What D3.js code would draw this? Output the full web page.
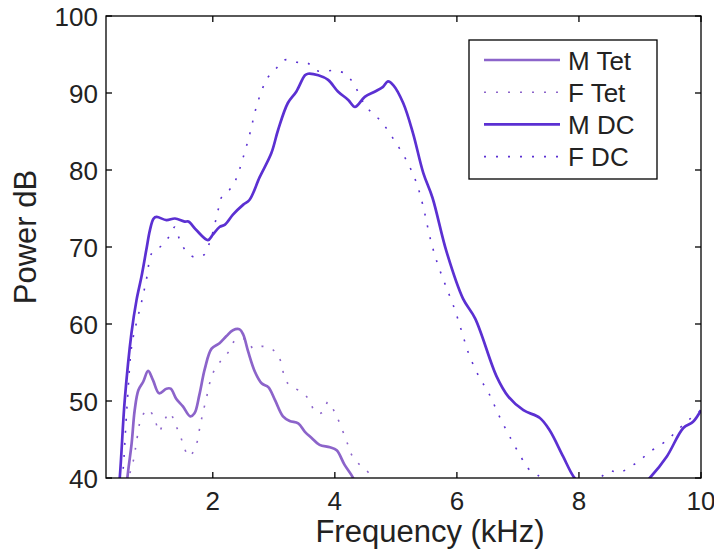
<!DOCTYPE html>
<html>
<head>
<meta charset="utf-8">
<style>
  body { margin: 0; background: #fff; }
  svg text { font-family: "Liberation Sans", Arial, Helvetica, sans-serif; fill: #222; }
</style>
</head>
<body>
<svg width="714" height="549"></svg>
<script src="https://cdn.jsdelivr.net/npm/d3@7/dist/d3.min.js"></script>
<script>
// ---- data: [frequency kHz, power dB] ----
var mTet = [[0.55,35],[0.6,40],[0.67,44.5],[0.72,48.8],[0.78,51.4],[0.86,52.5],[0.94,53.9],[1.02,52.7],[1.12,51.0],
  [1.24,51.6],[1.31,51.6],[1.40,50.3],[1.51,49.3],[1.63,48.0],[1.70,48.4],[1.78,50.8],[1.87,54.2],[1.98,56.8],
  [2.11,57.5],[2.22,58.4],[2.33,59.2],[2.44,59.3],[2.50,58.6],[2.58,56.4],[2.69,53.8],[2.80,52.3],[2.91,51.8],
  [3.02,50.1],[3.15,48.0],[3.26,47.4],[3.40,47.1],[3.51,46.0],[3.62,45.2],[3.75,44.3],[3.92,44.0],[4.03,43.6],
  [4.16,41.7],[4.30,40.0],[4.45,37]];
var fTet = [[0.58,36],[0.62,40],[0.68,41.6],[0.72,43.2],[0.75,44.7],[0.83,47.8],[0.94,48.9],[1.05,47.6],[1.12,46.0],
  [1.20,47.4],[1.30,48.5],[1.38,47.0],[1.46,45.7],[1.52,44.2],[1.61,42.8],[1.72,44.1],[1.80,47.1],[1.89,50.2],
  [2.0,53.6],[2.14,55.3],[2.27,56.5],[2.38,58.0],[2.58,57.9],[2.66,56.8],[2.81,57.1],[2.96,56.8],[3.09,55.6],
  [3.20,52.6],[3.31,51.8],[3.47,51.1],[3.59,50.0],[3.68,48.5],[3.80,48.5],[3.89,49.9],[4.0,48.5],[4.08,47.1],
  [4.22,44.2],[4.29,42.8],[4.41,41.7],[4.55,40.7],[4.7,38]];
var mDc = [[0.4,34],[0.475,40],[0.557,50.1],[0.667,58.8],[0.75,63.1],[0.83,66.1],[0.91,69.6],[0.97,72.2],[1.03,73.7],
  [1.08,73.9],[1.24,73.5],[1.38,73.7],[1.54,73.3],[1.6,73.3],[1.73,72.2],[1.92,70.9],[2.0,71.6],[2.11,72.6],
  [2.2,72.9],[2.33,74.2],[2.5,75.5],[2.6,76.1],[2.77,79.1],[2.96,82.2],[3.07,85.2],[3.23,88.7],[3.37,90.2],
  [3.51,92.3],[3.56,92.5],[3.73,92.3],[3.89,91.7],[4.05,90.2],[4.22,89.1],[4.33,88.2],[4.49,89.5],[4.66,90.2],
  [4.79,90.8],[4.87,91.5],[4.96,91.0],[5.12,88.7],[5.28,84.8],[5.45,79.6],[5.6,76.4],[5.83,69.4],[6.1,63.3],
  [6.3,60.7],[6.65,53.2],[6.84,50.6],[7.09,48.8],[7.36,47.8],[7.52,46.2],[7.74,42.8],[7.91,40.2],[8.1,38.5],
  [8.5,37.5],[8.9,38.0],[9.16,40.0],[9.44,42.8],[9.71,46.5],[9.87,47.3],[10.0,48.8]];
var fDc = [[0.45,35],[0.52,40],[0.6,50],[0.67,57.1],[0.75,60.2],[0.84,63.1],[0.92,66.1],[1.0,69.2],[1.15,70.1],
  [1.28,71.3],[1.38,72.6],[1.45,71.1],[1.54,69.7],[1.69,68.7],[1.86,69.0],[1.94,70.4],[2.0,71.9],[2.09,74.9],
  [2.14,76.4],[2.28,77.5],[2.38,78.8],[2.5,81.7],[2.61,84.8],[2.70,87.8],[2.82,90.7],[2.91,92.1],[3.04,93.2],
  [3.18,94.3],[3.37,94.0],[3.55,93.9],[3.70,92.9],[4.0,92.9],[4.17,92.5],[4.30,91.3],[4.48,88.6],[4.61,87.4],
  [4.75,86.4],[4.97,83.9],[5.17,81.3],[5.33,78.5],[5.44,75.5],[5.57,70.9],[5.68,67.9],[5.81,65.1],[5.96,62.0],
  [6.08,59.0],[6.20,56.0],[6.36,53.2],[6.53,50.9],[6.69,48.1],[6.87,45.3],[7.06,42.6],[7.16,41.3],[7.32,40.4],
  [7.6,38.8],[8.0,38.5],[8.34,40.0],[8.50,40.9],[8.67,40.7],[8.84,41.5],[8.99,42.2],[9.14,43.3],[9.30,44.1],
  [9.46,45.0],[9.60,46.1],[9.75,47.2],[9.87,48.0],[10.0,48.8]];

var xTicks = [2, 4, 6, 8, 10];
var yTicks = [40, 50, 60, 70, 80, 90, 100];
var legendNames = ["M Tet", "F Tet", "M DC", "F DC"];

var tetColor = "#8c64ca", dcColor = "#5b30d2";
var series = [
  {name: "M Tet", values: mTet, color: tetColor, dotted: false},
  {name: "F Tet", values: fTet, color: tetColor, dotted: true},
  {name: "M DC", values: mDc, color: dcColor, dotted: false},
  {name: "F DC", values: fDc, color: dcColor, dotted: true}
];

var svg = d3.select("svg");
var plotLeft = 106, plotRight = 701, plotTop = 16, plotBottom = 478;

var x = d3.scaleLinear().domain([0.25, 10]).range([plotLeft, plotRight]);
var y = d3.scaleLinear().domain([40, 100]).range([plotBottom, plotTop]);

svg.append("clipPath").attr("id", "plotclip")
  .append("rect").attr("x", plotLeft).attr("y", plotTop)
  .attr("width", plotRight - plotLeft).attr("height", plotBottom - plotTop);

var line = d3.line()
  .x(function(d) { return x(d[0]); })
  .y(function(d) { return y(d[1]); })
  .curve(d3.curveCatmullRom.alpha(0.5));

var plot = svg.append("g").attr("clip-path", "url(#plotclip)");
plot.selectAll("path.series")
  .data(series)
  .enter()
  .append("path")
  .attr("class", "series")
  .attr("d", function(d) { return line(d.values); })
  .attr("fill", "none")
  .attr("stroke", function(d) { return d.color; })
  .attr("stroke-width", function(d) { return d.dotted ? 1.6 : 2.7; })
  .attr("stroke-dasharray", function(d) { return d.dotted ? "2,10" : null; })
  .attr("stroke-linejoin", "round");

// box axes, ticks inward on all sides (matlab style)
var tickLen = 6;
var axisG = svg.append("g").attr("stroke", "#000").attr("stroke-width", 1.3);
axisG.append("rect").attr("x", plotLeft).attr("y", plotTop)
  .attr("width", plotRight - plotLeft).attr("height", plotBottom - plotTop)
  .attr("fill", "none");

xTicks.forEach(function(t) {
  axisG.append("line").attr("x1", x(t)).attr("x2", x(t)).attr("y1", plotBottom).attr("y2", plotBottom - tickLen);
  axisG.append("line").attr("x1", x(t)).attr("x2", x(t)).attr("y1", plotTop).attr("y2", plotTop + tickLen);
});
yTicks.forEach(function(t) {
  axisG.append("line").attr("x1", plotLeft).attr("x2", plotLeft + tickLen).attr("y1", y(t)).attr("y2", y(t));
  axisG.append("line").attr("x1", plotRight).attr("x2", plotRight - tickLen).attr("y1", y(t)).attr("y2", y(t));
});

svg.selectAll("text.xtick").data(xTicks).enter().append("text")
  .attr("class", "xtick")
  .attr("x", function(d) { return x(d); })
  .attr("y", 510)
  .attr("text-anchor", "middle")
  .style("font-size", "26px")
  .text(function(d) { return d; });

svg.selectAll("text.ytick").data(yTicks).enter().append("text")
  .attr("class", "ytick")
  .attr("x", 98)
  .attr("y", function(d) { return y(d) + 9.5; })
  .attr("text-anchor", "end")
  .style("font-size", "26px")
  .text(function(d) { return d; });

svg.append("text")
  .attr("x", 430).attr("y", 542)
  .attr("text-anchor", "middle")
  .style("font-size", "31px")
  .text("Frequency (kHz)");

svg.append("text")
  .attr("transform", "translate(36,237) rotate(-90)")
  .attr("text-anchor", "middle")
  .style("font-size", "31px")
  .text("Power dB");

// legend
var lg = svg.append("g");
lg.append("rect").attr("x", 469).attr("y", 40).attr("width", 188).attr("height", 139)
  .attr("fill", "#fff").attr("stroke", "#000").attr("stroke-width", 1.3);
var rows = lg.selectAll("g.row").data(series).enter().append("g")
  .attr("class", "row")
  .attr("transform", function(d, i) { return "translate(0," + (60 + i * 32.2) + ")"; });
rows.append("line")
  .attr("x1", 484).attr("x2", 560).attr("y1", 0).attr("y2", 0)
  .attr("stroke", function(d) { return d.color; })
  .attr("stroke-width", function(d) { return d.dotted ? 1.6 : 2.7; })
  .attr("stroke-dasharray", function(d) { return d.dotted ? "2,10" : null; });
rows.append("text")
  .attr("x", 568).attr("y", 9.5)
  .style("font-size", "26px")
  .text(function(d, i) { return legendNames[i]; });
</script>
</body>
</html>
